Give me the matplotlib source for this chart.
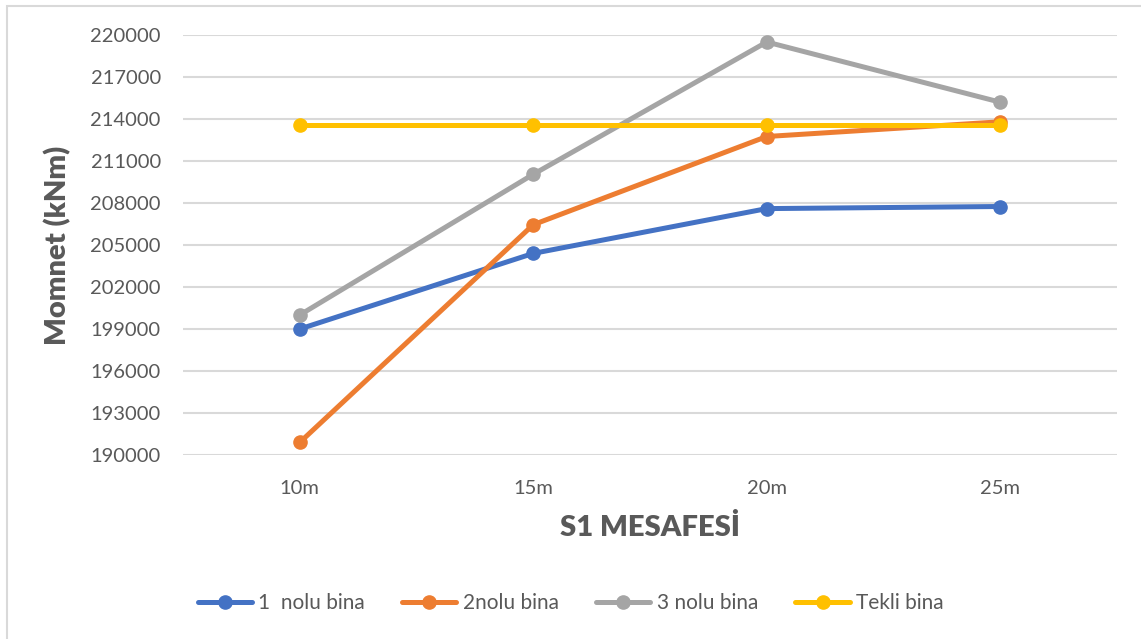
import matplotlib
matplotlib.use("Agg")
import matplotlib.pyplot as plt
from matplotlib.patches import Rectangle

plt.rcParams['font.family'] = ['Lato', 'DejaVu Sans']

categories = ["10m", "15m", "20m", "25m"]
bina1 = [199000, 204400, 207600, 207750]
bina2 = [190900, 206450, 212750, 213800]
bina3 = [200000, 210050, 219500, 215200]
tekli = [213600, 213600, 213600, 213600]

series_names = ["1  nolu bina", "2nolu bina", "3 nolu bina", "Tekli bina"]
series_values = [bina1, bina2, bina3, tekli]
series_colors = ["#4472C4", "#ED7D31", "#A5A5A5", "#FFC000"]

yticks = list(range(190000, 220001, 3000))

W, H = 1141, 639
fig = plt.figure(figsize=(W / 100, H / 100), dpi=100)
fig.patch.set_facecolor("white")

# chart frame
fig.add_artist(Rectangle((7 / W, -0.1), 1.2, 1 - 6 / H + 0.1, transform=fig.transFigure,
                         fill=False, edgecolor="#D9D9D9", linewidth=1.5))

ax = fig.add_axes([183 / W, 1 - 455 / H, (1117 - 183) / W, (455 - 35) / H])
x = [i + 0.5 for i in range(len(categories))]

for i, (name, vals, col) in enumerate(zip(series_names, series_values, series_colors)):
    ax.plot(x, vals, color=col, linewidth=3.6, marker="o", markersize=9.5,
            label=name, zorder=3 + i, solid_capstyle="round")

ax.set_xlim(0, len(categories))
ax.set_ylim(190000, 220000)
ax.set_yticks(yticks)
ax.set_yticklabels([str(v) for v in yticks])
ax.set_xticks(x)
ax.set_xticklabels(categories)
ax.yaxis.grid(True, color="#D9D9D9", linewidth=1.5)
ax.set_axisbelow(True)
for s in ax.spines.values():
    s.set_visible(False)
ax.tick_params(axis="both", length=0, colors="#595959", labelsize=14.5)
ax.tick_params(axis="y", pad=16)
ax.tick_params(axis="x", pad=18)

ax.set_ylabel("Momnet (kNm)", fontsize=21, fontweight="heavy", color="#595959", labelpad=14)
ax.set_xlabel("S1 MESAFESİ", fontsize=21, fontweight="heavy", color="#595959", labelpad=12)

leg = fig.legend(loc="center", bbox_to_anchor=(0.5, 1 - 603 / H), ncol=4, frameon=False,
                 fontsize=15, handlelength=2.6, handletextpad=0.3, columnspacing=1.8,
                 labelcolor="#595959")

fig.savefig("out.png", dpi=100, facecolor="white")
